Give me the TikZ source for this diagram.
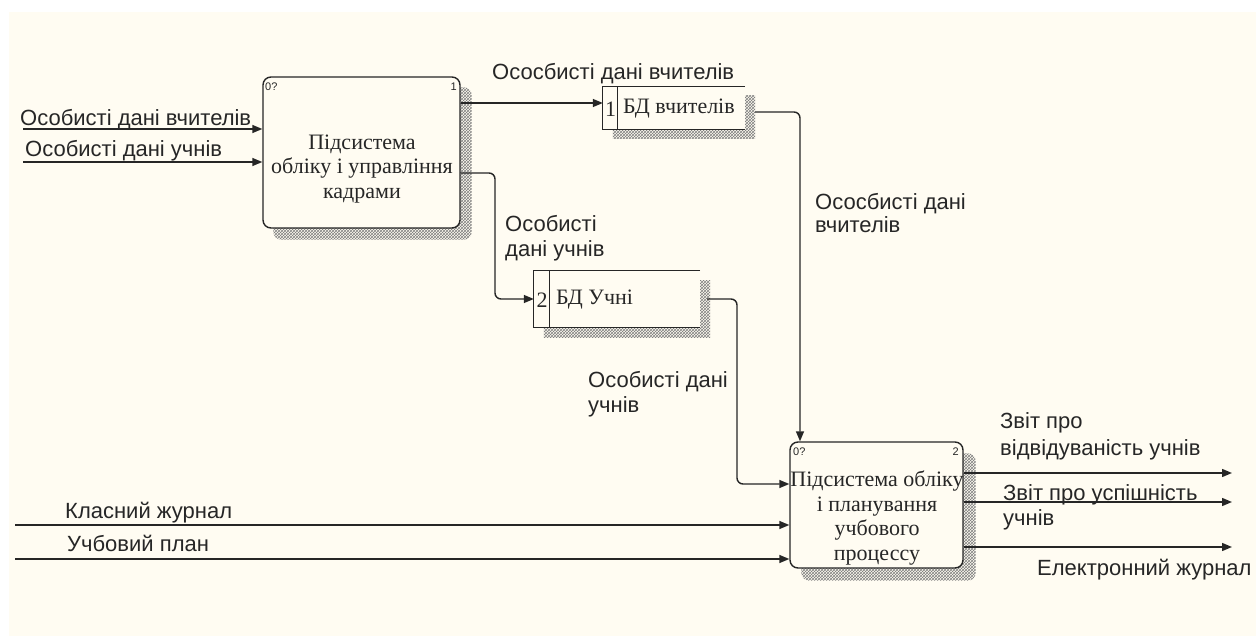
\documentclass[tikz,border=0pt]{standalone}
\usepackage{fontspec}
\setmainfont{Liberation Serif}
\newfontfamily\sansf{Liberation Sans}
\usetikzlibrary{arrows.meta,patterns}
\definecolor{bg}{HTML}{FFFCF2}
\definecolor{ink}{HTML}{262626}
\pgfdeclarelayer{back}
\pgfdeclarelayer{shad}
\pgfsetlayers{back,shad,main}
\tikzset{
  arr/.style={draw=ink, line width=1.4pt, -{Triangle[length=10pt,width=8pt]}, rounded corners=6pt},
  proc/.style={draw=ink, line width=1.4pt, fill=bg, rounded corners=8pt, inner sep=0pt},
  dsbox/.style={fill=bg, inner sep=0pt},
  dsline/.style={draw=ink, line width=1.3pt},
  shadow/.style={pattern=crosshatch, pattern color=gray},
  lbl/.style={font=\sansf\fontsize{22}{24}\selectfont, text=ink, inner sep=0pt, anchor=base west},
  ptxt/.style={font=\fontsize{22}{24.5}\selectfont, text=ink, align=center, inner sep=0pt},
  dtxt/.style={font=\fontsize{22}{24}\selectfont, text=ink, inner sep=0pt},
  tinyt/.style={font=\sansf\fontsize{11}{11}\selectfont, text=ink, inner sep=0pt}
}
\begin{document}
\begin{tikzpicture}[x=1pt,y=-1pt]
\useasboundingbox (0,0) rectangle (1256,636);
\begin{pgfonlayer}{back}
\fill[white] (0,0) rectangle (1256,636);
\fill[bg] (9,12) rectangle (1256,636);
\end{pgfonlayer}

% process boxes
\node[proc, minimum width=197, minimum height=151] (b1) at (361.5,152.5) {};
\node[proc, minimum width=173, minimum height=126] (b2) at (876.5,505) {};
\node[ptxt] (t1) at (362,169) {Підсистема\\обліку і управління\\кадрами};
\node[ptxt] (t2) at (877,518) {Підсистема обліку\\і планування\\учбового\\процессу};
\node[tinyt, anchor=west] (n1a) at (265,87) {0?};
\node[tinyt, anchor=east] (n1b) at (457,87) {1};
\node[tinyt, anchor=west] (n2a) at (793,452) {0?};
\node[tinyt, anchor=east] (n2b) at (959,452) {2};

% data stores
\node[dsbox, minimum width=142, minimum height=42] (d1) at (674,108) {};
\node[dsbox, minimum width=166, minimum height=56] (d2) at (617,299) {};
\draw[dsline] (d1.north east) -- (d1.north west) -- (d1.south west) -- (d1.south east);
\draw[dsline] ([xshift=15pt]d1.north west) -- ([xshift=15pt]d1.south west);
\draw[dsline] (d2.north east) -- (d2.north west) -- (d2.south west) -- (d2.south east);
\draw[dsline] ([xshift=16pt]d2.north west) -- ([xshift=16pt]d2.south west);
\node[dtxt] (d1n) at (610.5,109) {1};
\node[dtxt, anchor=west] (d1t) at (623,109) {БД вчителів};
\node[dtxt] (d2n) at (542,300) {2};
\node[dtxt, anchor=west] (d2t) at (556,300) {БД Учні};

% shadows
\begin{pgfonlayer}{shad}
\fill[shadow, rounded corners=8pt] ([shift={(11,11)}]b1.south west) rectangle ([shift={(11,11)}]b1.north east);
\fill[shadow, rounded corners=8pt] ([shift={(12,12)}]b2.south west) rectangle ([shift={(12,12)}]b2.north east);
\fill[shadow] ([shift={(10,9)}]d1.south west) rectangle ([shift={(10,9)}]d1.north east);
\fill[shadow] ([shift={(10,10)}]d2.south west) rectangle ([shift={(10,10)}]d2.north east);
\end{pgfonlayer}

% coordinates
\coordinate (i1) at (23,129);
\coordinate (i2) at (23,162);
\coordinate (i3) at (15,525);
\coordinate (i4) at (15,559);
\coordinate (y1) at (0,103);
\coordinate (k1) at (495,173);
\coordinate (k2) at (495,299);
\coordinate (m1) at (755,112);
\coordinate (m2) at (800,112);
\coordinate (p1) at (707,299);
\coordinate (p2) at (737,299);
\coordinate (p3) at (737,484);
\coordinate (o1) at (1232,473);
\coordinate (o2) at (1232,502);
\coordinate (o3) at (1232,547);

% connectors
\draw[arr] (i1) -- (i1 -| b1.west);
\draw[arr] (i2) -- (i2 -| b1.west);
\draw[arr] (y1 -| b1.east) -- (y1 -| d1.west);
\draw[arr] (k1 -| b1.east) -- (k1) -- (k2) -- (k2 -| d2.west);
\draw[arr] (m1) -- (m2) -- (m2 |- b2.north);
\draw[arr] (p1) -- (p2) -- (p3) -- (p3 -| b2.west);
\draw[arr] (i3) -- (i3 -| b2.west);
\draw[arr] (i4) -- (i4 -| b2.west);
\draw[arr] (o1 -| b2.east) -- (o1);
\draw[arr] (o2 -| b2.east) -- (o2);
\draw[arr] (o3 -| b2.east) -- (o3);

% labels
\node[lbl] (l1) at (20,126) {Особисті дані вчителів};
\node[lbl] (l2) at (25,157) {Особисті дані учнів};
\node[lbl] (l3) at (492,80) {Ососбисті дані вчителів};
\node[lbl] (l4a) at (505,232) {Особисті};
\node[lbl] (l4b) at (505,257) {дані учнів};
\node[lbl] (l5a) at (815,210) {Ососбисті дані};
\node[lbl] (l5b) at (815,233) {вчителів};
\node[lbl] (l6a) at (588,387) {Особисті дані};
\node[lbl] (l6b) at (588,412) {учнів};
\node[lbl] (l7) at (65,518) {Класний журнал};
\node[lbl] (l8) at (67,551) {Учбовий план};
\node[lbl] (l9a) at (1000,428) {Звіт про};
\node[lbl] (l9b) at (1000,455) {відвідуваність учнів};
\node[lbl] (l10a) at (1003,500) {Звіт про успішність};
\node[lbl] (l10b) at (1003,525) {учнів};
\node[lbl] (l11) at (1037,575) {Електронний журнал};
\end{tikzpicture}
\end{document}
